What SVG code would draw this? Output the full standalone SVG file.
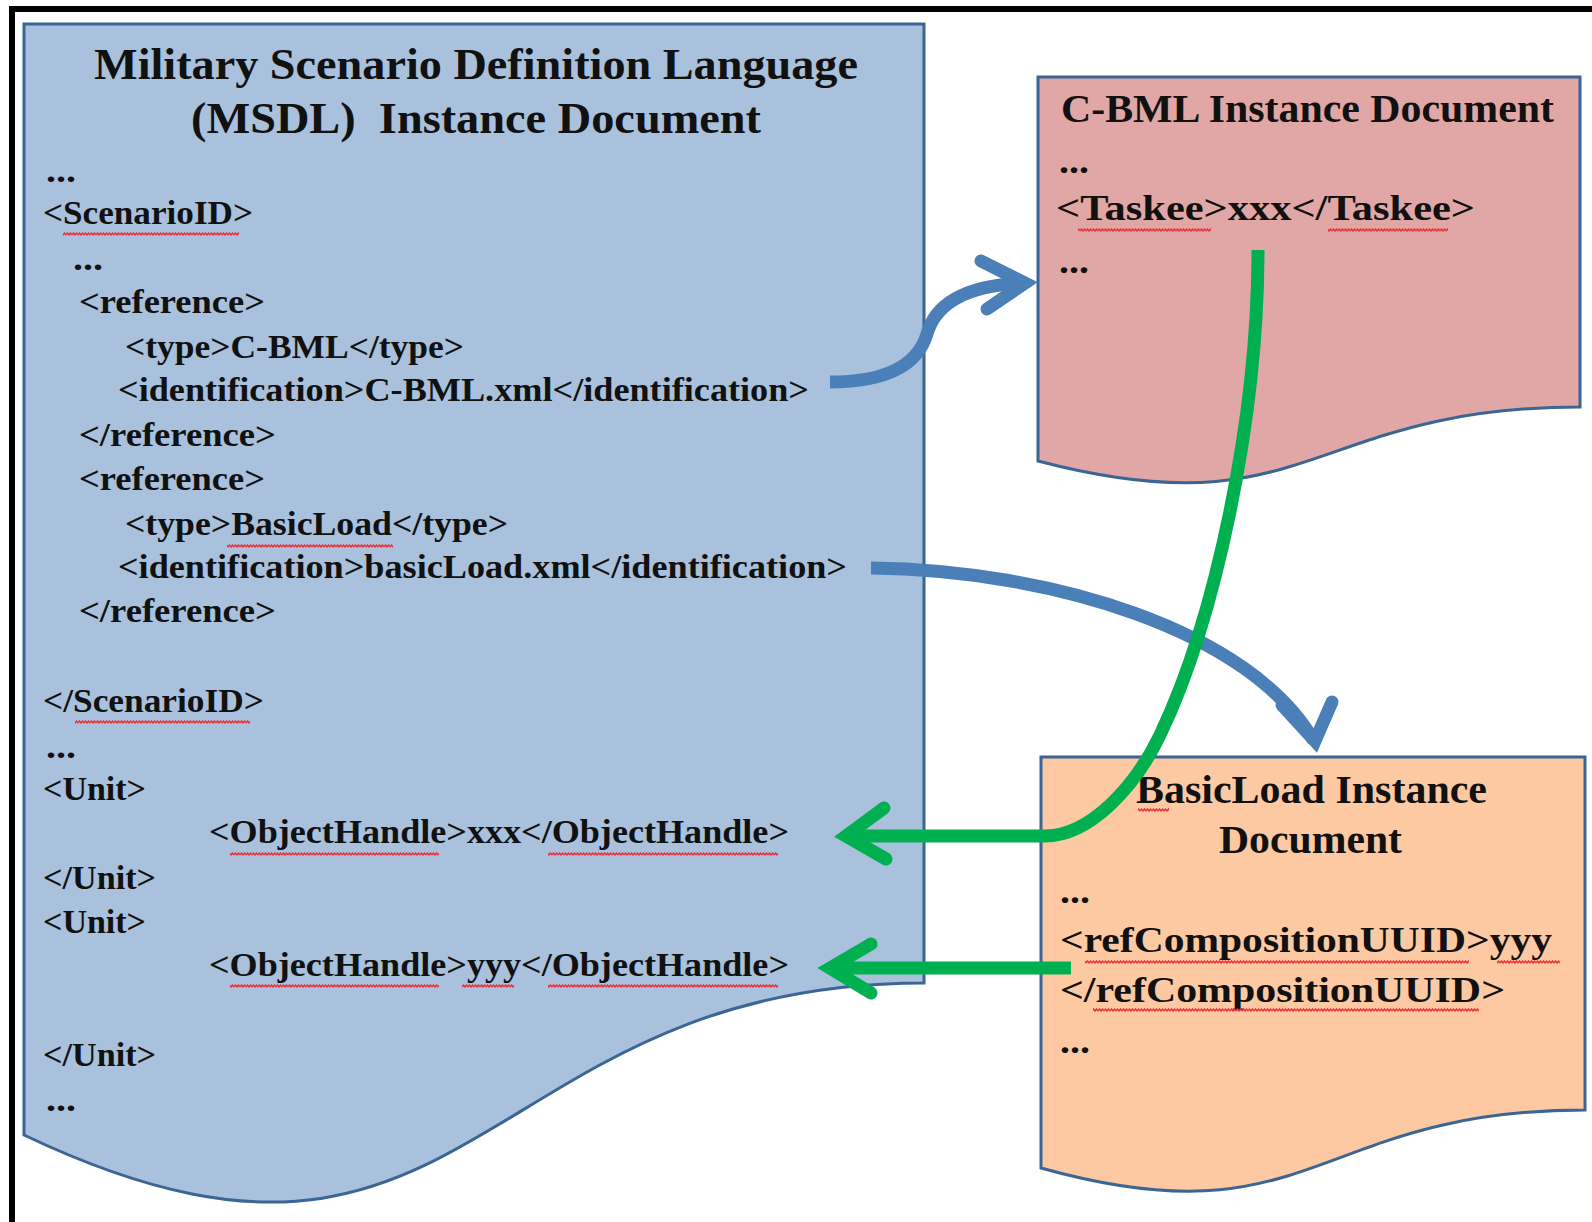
<svg xmlns="http://www.w3.org/2000/svg" width="1592" height="1222" viewBox="0 0 1592 1222">
<style>
.doc{stroke:#3b6594;stroke-width:3;stroke-linejoin:miter}
.t{font-family:"Liberation Serif","Times New Roman",serif;font-weight:bold;fill:#111}
.title{font-size:45px}
.code{font-size:34px}
.ptitle{font-size:39px}
.pcode{font-size:36px}
.sq{fill:url(#squig)}
.blue{fill:none;stroke:#4a7fb8;stroke-width:13}
.green{fill:none;stroke:#00b050;stroke-width:13}
.head{stroke-linecap:round;stroke-linejoin:miter}
</style>
<defs>
<pattern id="squig" x="0" y="0" width="6" height="4" patternUnits="userSpaceOnUse">
<path d="M0,3 L1.5,1 L3,3 L4.5,1 L6,3" fill="none" stroke="#e8333a" stroke-width="1.4"/>
</pattern>
</defs>
<rect width="1592" height="1222" fill="#ffffff"/>
<path d="M12,1232 V9 H1600" fill="none" stroke="#000" stroke-width="6"/>

<g id="msdl-doc">
<path class="doc" d="M24,24 H924 V983 C474,983 474,1349 24,1135 Z" fill="#a9c1dc"/>
<text class="t title" x="94" y="79" textLength="764" lengthAdjust="spacingAndGlyphs">Military Scenario Definition Language</text>
<text class="t title" x="191" y="133" textLength="570" lengthAdjust="spacingAndGlyphs" style="white-space:pre">(MSDL)  Instance Document</text>
<text class="t code" x="46" y="182" textLength="30" lengthAdjust="spacingAndGlyphs">...</text>
<text class="t code" x="43" y="224" textLength="210" lengthAdjust="spacingAndGlyphs">&lt;ScenarioID&gt;</text>
<rect class="sq" x="63" y="232" width="176" height="4"/>
<text class="t code" x="73" y="270" textLength="30" lengthAdjust="spacingAndGlyphs">...</text>
<text class="t code" x="79" y="313" textLength="186" lengthAdjust="spacingAndGlyphs">&lt;reference&gt;</text>
<text class="t code" x="125" y="358" textLength="339" lengthAdjust="spacingAndGlyphs">&lt;type&gt;C-BML&lt;/type&gt;</text>
<text class="t code" x="118" y="401" textLength="691" lengthAdjust="spacingAndGlyphs">&lt;identification&gt;C-BML.xml&lt;/identification&gt;</text>
<text class="t code" x="79" y="446" textLength="197" lengthAdjust="spacingAndGlyphs">&lt;/reference&gt;</text>
<text class="t code" x="79" y="490" textLength="186" lengthAdjust="spacingAndGlyphs">&lt;reference&gt;</text>
<text class="t code" x="125" y="535" textLength="383" lengthAdjust="spacingAndGlyphs">&lt;type&gt;BasicLoad&lt;/type&gt;</text>
<rect class="sq" x="227" y="544" width="166" height="4"/>
<text class="t code" x="118" y="578" textLength="729" lengthAdjust="spacingAndGlyphs">&lt;identification&gt;basicLoad.xml&lt;/identification&gt;</text>
<text class="t code" x="79" y="622" textLength="197" lengthAdjust="spacingAndGlyphs">&lt;/reference&gt;</text>
<text class="t code" x="43" y="712" textLength="221" lengthAdjust="spacingAndGlyphs">&lt;/ScenarioID&gt;</text>
<rect class="sq" x="75" y="720" width="175" height="4"/>
<text class="t code" x="46" y="758" textLength="30" lengthAdjust="spacingAndGlyphs">...</text>
<text class="t code" x="43" y="800" textLength="103" lengthAdjust="spacingAndGlyphs">&lt;Unit&gt;</text>
<text class="t code" x="209" y="843" textLength="580" lengthAdjust="spacingAndGlyphs">&lt;ObjectHandle&gt;xxx&lt;/ObjectHandle&gt;</text>
<rect class="sq" x="230" y="852" width="209" height="4"/>
<rect class="sq" x="548" y="852" width="230" height="4"/>
<text class="t code" x="43" y="889" textLength="113" lengthAdjust="spacingAndGlyphs">&lt;/Unit&gt;</text>
<text class="t code" x="43" y="933" textLength="103" lengthAdjust="spacingAndGlyphs">&lt;Unit&gt;</text>
<text class="t code" x="209" y="976" textLength="580" lengthAdjust="spacingAndGlyphs">&lt;ObjectHandle&gt;yyy&lt;/ObjectHandle&gt;</text>
<rect class="sq" x="230" y="984" width="209" height="4"/>
<rect class="sq" x="462" y="984" width="52" height="4"/>
<rect class="sq" x="548" y="984" width="230" height="4"/>
<text class="t code" x="43" y="1066" textLength="113" lengthAdjust="spacingAndGlyphs">&lt;/Unit&gt;</text>
<text class="t code" x="46" y="1111" textLength="30" lengthAdjust="spacingAndGlyphs">...</text>
</g>

<g id="cbml-doc">
<path class="doc" d="M1038,77 H1580 V407 C1309,407 1309,532 1038,461 Z" fill="#e1a7a6"/>
<text class="t ptitle" x="1061" y="122" textLength="493" lengthAdjust="spacingAndGlyphs">C-BML Instance Document</text>
<text class="t pcode" x="1059" y="173" textLength="30" lengthAdjust="spacingAndGlyphs">...</text>
<text class="t pcode" x="1056" y="220" textLength="419" lengthAdjust="spacingAndGlyphs">&lt;Taskee&gt;xxx&lt;/Taskee&gt;</text>
<rect class="sq" x="1078" y="228" width="133" height="4"/>
<rect class="sq" x="1328" y="228" width="120" height="4"/>
<text class="t pcode" x="1059" y="273" textLength="30" lengthAdjust="spacingAndGlyphs">...</text>
</g>

<g id="basicload-doc">
<path class="doc" d="M1041,757 H1585 V1110 C1313,1110 1313,1244 1041,1168 Z" fill="#fdc9a3"/>
<text class="t ptitle" x="1136" y="803" textLength="351" lengthAdjust="spacingAndGlyphs">BasicLoad Instance</text>
<rect class="sq" x="1138" y="808" width="31" height="4"/>
<text class="t ptitle" x="1219" y="853" textLength="183" lengthAdjust="spacingAndGlyphs">Document</text>
<text class="t pcode" x="1060" y="903" textLength="30" lengthAdjust="spacingAndGlyphs">...</text>
<text class="t pcode" x="1060" y="952" textLength="492" lengthAdjust="spacingAndGlyphs">&lt;refCompositionUUID&gt;yyy</text>
<rect class="sq" x="1085" y="960" width="384" height="4"/>
<rect class="sq" x="1497" y="960" width="63" height="4"/>
<text class="t pcode" x="1060" y="1002" textLength="445" lengthAdjust="spacingAndGlyphs">&lt;/refCompositionUUID&gt;</text>
<rect class="sq" x="1093" y="1008" width="386" height="4"/>
<text class="t pcode" x="1060" y="1053" textLength="30" lengthAdjust="spacingAndGlyphs">...</text>
</g>

<g id="connectors">
<path class="blue" d="M830,382 C888,382 918,364 927,334 C936,302 970,285 1025,283"/>
<path class="blue head" d="M981,261 L1025,283 L987,309"/>
<path class="blue" d="M871,568 C1050,570 1250,630 1314,741"/>
<path class="blue head" d="M1282,705 L1315,741 L1332,702"/>
<path class="green" d="M1258,250 C1258,420 1215,620 1160,735 C1135,787 1090,836 1045,836 L846,836"/>
<path class="green head" d="M884,808 L846,836 L886,859"/>
<path class="green" d="M1071,968 L830,968"/>
<path class="green head" d="M871,944 L830,968 L871,993"/>
</g>
</svg>
